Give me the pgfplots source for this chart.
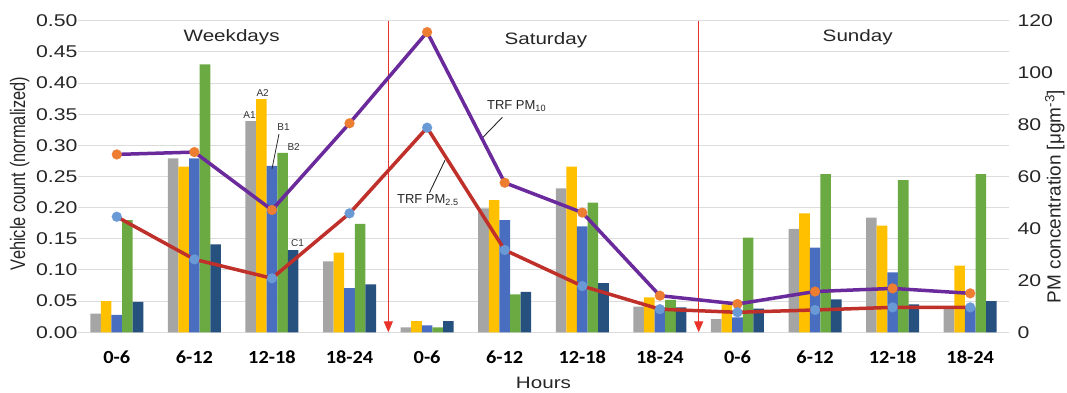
\documentclass[border=0pt]{standalone}
\usepackage{pgfplots}
\pgfplotsset{compat=1.18}
\usepackage{fontspec}
\setmainfont{Liberation Sans}
\newfontfamily\wide{Liberation Sans}[FakeStretch=1.25]
\newfontfamily\carlito{Carlito}[FakeStretch=1.1]
\usetikzlibrary{arrows.meta}
\definecolor{cgray}{HTML}{A5A5A5}
\definecolor{cyel}{HTML}{FFC000}
\definecolor{cblue}{HTML}{4A6EBF}
\definecolor{cgreen}{HTML}{6BAA42}
\definecolor{cdblue}{HTML}{26507E}
\definecolor{cpurple}{HTML}{6A2A9C}
\definecolor{cred}{HTML}{C0302A}
\definecolor{corange}{HTML}{ED7D31}
\definecolor{clblue}{HTML}{6A9AD6}
\definecolor{cgrid}{HTML}{DCDCDC}
\definecolor{carrow}{HTML}{E8322A}
\begin{document}
\begin{tikzpicture}
\begin{axis}[name=main, scale only axis, width=931pt, height=311.6pt,
  xmin=-0.5, xmax=11.5, ymin=0, ymax=0.5,
  ybar=0pt, bar width=10.6pt,
  xtick={0,...,11},
  xticklabels={0-6,6-12,12-18,18-24,0-6,6-12,12-18,18-24,0-6,6-12,12-18,18-24},
  ytick={0,0.05,0.1,0.15,0.2,0.25,0.3,0.35,0.4,0.45,0.5},
  ymajorgrids, grid style={cgrid, line width=1pt},
  axis line style={draw=none}, major tick length=0pt,
  /pgf/number format/assume math mode=true,
  yticklabel style={/pgf/number format/.cd, fixed, fixed zerofill, precision=2, /tikz/.cd, font=\wide\fontsize{17}{20}\selectfont, color=black!85, xshift=3pt},
  xticklabel style={font=\carlito\bfseries\fontsize{18.5}{20}\selectfont, anchor=center, yshift=-25pt},
  ylabel={Vehicle count (normalized)},
  every axis y label/.style={at={(axis description cs:-0.0625,0.51)}, anchor=center, rotate=90, yscale=1.28, font=\fontsize{16.4}{18}\selectfont, color=black!85},
  xlabel={Hours},
  every axis x label/.style={at={(axis description cs:0.5,0)}, anchor=center, yshift=-51pt, font=\wide\fontsize{16.5}{20}\selectfont, color=black!85},
]
\addplot[draw=none, fill=cgray] coordinates {(0,0.030) (1,0.279) (2,0.339) (3,0.114) (4,0.008) (5,0.199) (6,0.231) (7,0.041) (8,0.021) (9,0.166) (10,0.184) (11,0.040)};
\addplot[draw=none, fill=cyel] coordinates {(0,0.050) (1,0.266) (2,0.374) (3,0.128) (4,0.018) (5,0.212) (6,0.266) (7,0.056) (8,0.045) (9,0.191) (10,0.171) (11,0.107)};
\addplot[draw=none, fill=cblue] coordinates {(0,0.028) (1,0.279) (2,0.267) (3,0.071) (4,0.011) (5,0.180) (6,0.170) (7,0.040) (8,0.024) (9,0.136) (10,0.096) (11,0.040)};
\addplot[draw=none, fill=cgreen] coordinates {(0,0.180) (1,0.430) (2,0.288) (3,0.174) (4,0.008) (5,0.061) (6,0.208) (7,0.052) (8,0.152) (9,0.254) (10,0.244) (11,0.254)};
\addplot[draw=none, fill=cdblue] coordinates {(0,0.049) (1,0.141) (2,0.132) (3,0.077) (4,0.018) (5,0.065) (6,0.079) (7,0.040) (8,0.038) (9,0.053) (10,0.045) (11,0.050)};
\draw[carrow, line width=1.3pt, -{Triangle[length=11pt,width=9pt]}] (axis cs:3.5,0.5) -- (axis cs:3.5,0);
\draw[carrow, line width=1.3pt, -{Triangle[length=11pt,width=9pt]}] (axis cs:7.5,0.5) -- (axis cs:7.5,0);
\node[font=\wide\fontsize{16.5}{18}\selectfont, color=black!85] at (axis cs:1.48,0.474) {Weekdays};
\node[font=\wide\fontsize{16.5}{18}\selectfont, color=black!85] at (axis cs:5.53,0.469) {Saturday};
\node[font=\wide\fontsize{16.5}{18}\selectfont, color=black!85] at (axis cs:9.55,0.474) {Sunday};
\node[font=\fontsize{10}{12}\selectfont, color=black!80] at (axis cs:1.71,0.348) {A1};
\node[font=\fontsize{10}{12}\selectfont, color=black!80] at (axis cs:1.88,0.384) {A2};
\node[font=\fontsize{10}{12}\selectfont, color=black!80] at (axis cs:2.15,0.330) {B1};
\node[font=\fontsize{10}{12}\selectfont, color=black!80] at (axis cs:2.28,0.297) {B2};
\node[font=\fontsize{10}{12}\selectfont, color=black!80] at (axis cs:2.33,0.143) {C1};
\draw[black!85, line width=0.8pt] (axis cs:2.09,0.318) -- (axis cs:2.0,0.262);
\node[font=\fontsize{13}{15}\selectfont, color=black!85, anchor=west, inner sep=0pt] at (axis cs:4.77,0.363) {TRF PM\textsubscript{10}};
\draw[black!85, line width=0.9pt] (axis cs:4.97,0.345) -- (axis cs:4.72,0.313);
\node[font=\fontsize{13}{15}\selectfont, color=black!85, anchor=west, inner sep=0pt] at (axis cs:3.61,0.212) {TRF PM\textsubscript{2.5}};
\draw[black!85, line width=0.9pt] (axis cs:4.03,0.224) -- (axis cs:4.23,0.276);
\end{axis}
\begin{axis}[scale only axis, width=931pt, height=311.6pt,
  xmin=-0.5, xmax=11.5, ymin=0, ymax=120,
  axis x line=none, axis y line*=right,
  axis line style={draw=none}, major tick length=0pt,
  ytick={0,20,40,60,80,100,120},
  /pgf/number format/assume math mode=true,
  yticklabel style={font=\wide\fontsize{17}{20}\selectfont, color=black!85, xshift=5pt},
  ylabel={PM concentration [μgm\textsuperscript{-3}]},
  every axis y label/.style={at={(axis description cs:1.0492,0.436)}, anchor=center, rotate=90, font=\fontsize{19}{22}\selectfont, color=black!85},
]
\addplot[cpurple, line width=3.5pt, mark=*, mark size=5pt, mark options={fill=corange, draw=corange, line width=0.1pt}] coordinates {(0,68.5) (1,69.4) (2,47.1) (3,80.5) (4,115.6) (5,57.6) (6,46.1) (7,14.1) (8,10.9) (9,15.7) (10,16.9) (11,15.0)};
\addplot[cred, line width=3.5pt, mark=*, mark size=5pt, mark options={fill=clblue, draw=clblue, line width=0.1pt}] coordinates {(0,44.5) (1,28.1) (2,20.8) (3,45.8) (4,78.8) (5,31.7) (6,17.8) (7,8.9) (8,7.7) (9,8.6) (10,9.6) (11,9.6)};
\end{axis}
\pgfresetboundingbox
\path[use as bounding box] ([xshift=-78pt,yshift=-60pt]main.south west) rectangle ([xshift=58pt,yshift=20.7pt]main.north east);
\end{tikzpicture}
\end{document}
